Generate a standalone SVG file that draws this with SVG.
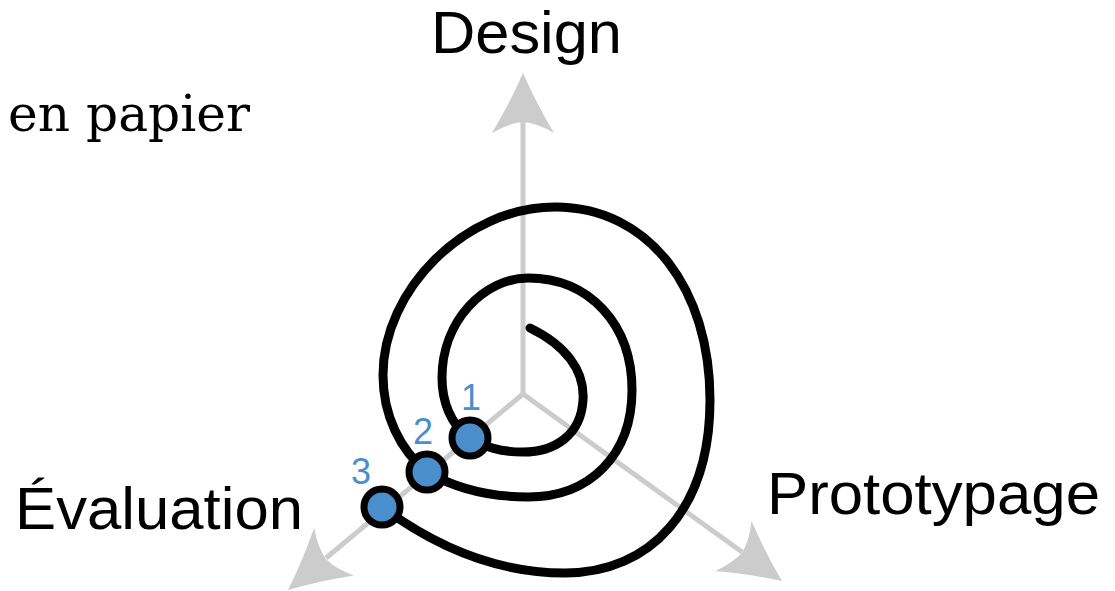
<svg xmlns="http://www.w3.org/2000/svg" width="1115" height="591" viewBox="0 0 1115 591">
<style>
.axis{stroke:#cccccc;stroke-width:5;fill:none}
.ah{fill:#cccccc}
.spiral{stroke:#000;stroke-width:9;fill:none;stroke-linecap:round}
.pt{fill:#4a8ecc;stroke:#000;stroke-width:7}
.num{font-family:"Liberation Sans",Arial,sans-serif;font-size:36px;fill:#4a8ecc;text-anchor:middle}
.lbl{font-family:"Liberation Sans",Arial,sans-serif;font-size:60px;fill:#000}
</style>
<defs>
<path id="ah" d="M0,0 Q-28,-12 -60,-31 Q-50,-14 -49,0 Q-50,14 -60,31 Q-28,12 0,0 Z"/>
</defs>
<g id="connectors">
<line class="axis" x1="523" y1="394" x2="523" y2="118"/>
<line class="axis" x1="523" y1="394" x2="326" y2="558"/>
<line class="axis" x1="523" y1="394" x2="742" y2="552"/>
<use href="#ah" class="ah" transform="translate(523,73) rotate(-90)"/>
<use href="#ah" class="ah" transform="translate(288,590) rotate(140.2)"/>
<use href="#ah" class="ah" transform="translate(782,581) rotate(35.8)"/>
</g>
<g id="spiral">
<path class="spiral" d="M530,328 C565,345 585,370 583,400 C581,435 555,452 523,452 C500,452 485,447 470,438 C450,425 442,400 442,378 C442,320 485,278 528,278 C590,278 632,325 632,390 C632,455 590,497 528,497 C490,497 455,488 427,472 C400,450 383,415 383,375 C383,290 465,207 555,207 C650,207 710,290 710,400 C710,510 650,573 565,573 C500,573 440,550 382,507"/>
</g>
<g id="p1"><circle class="pt" cx="470" cy="438" r="18"/><text class="num" x="471" y="410">1</text></g>
<g id="p2"><circle class="pt" cx="427" cy="472" r="18"/><text class="num" x="423" y="444">2</text></g>
<g id="p3"><circle class="pt" cx="382" cy="507" r="18"/><text class="num" x="361" y="484">3</text></g>
<g id="design"><text class="lbl" x="431" y="53" textLength="191" lengthAdjust="spacingAndGlyphs">Design</text></g>
<g id="evaluation"><text class="lbl" x="15" y="529" textLength="288" lengthAdjust="spacingAndGlyphs">Évaluation</text></g>
<g id="prototypage"><text class="lbl" x="767" y="514" textLength="333" lengthAdjust="spacingAndGlyphs">Prototypage</text></g>
<g id="papier"><text x="8" y="131" font-family="'DejaVu Serif',serif" font-size="51" textLength="242" lengthAdjust="spacingAndGlyphs">en papier</text></g>
</svg>
